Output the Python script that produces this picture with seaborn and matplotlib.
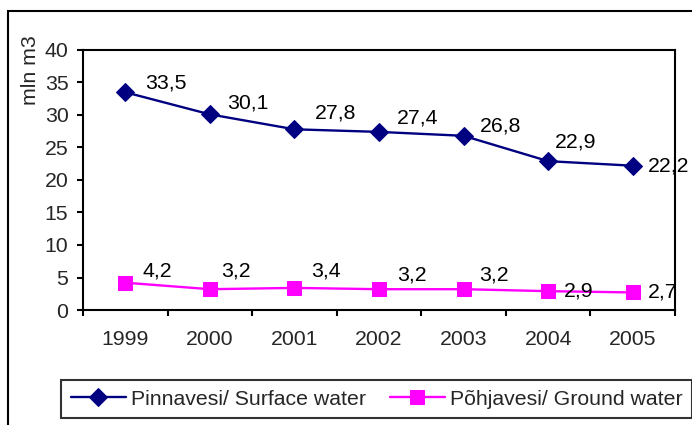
import pandas as pd
import matplotlib.pyplot as plt
import seaborn as sns
from matplotlib.patches import Rectangle

aastad = ['1999', '2000', '2001', '2002', '2003', '2004', '2005']
pinnavesi = [33.5, 30.1, 27.8, 27.4, 26.8, 22.9, 22.2]
pohjavesi = [4.2, 3.2, 3.4, 3.2, 3.2, 2.9, 2.7]
nimi_pinna = 'Pinnavesi/ Surface water'
nimi_pohja = 'Põhjavesi/ Ground water'

# label offsets in pixels (dx, dy), hand-placed like in the original
nihe_pinna = [(20, 9), (17, 11), (20, 16), (18, 14), (16, 10), (7, 19), (15, 0)]
nihe_pohja = [(17, 12), (11, 18), (17, 17), (18, 14), (16, 14), (16, 0), (15, 0)]

df_pinna = pd.DataFrame({'aasta': aastad, 'vesi': pinnavesi})
df_pohja = pd.DataFrame({'aasta': aastad, 'vesi': pohjavesi})

FS = 15.3

sns.set_theme(style='white')
plt.rcParams['font.family'] = ['Liberation Sans', 'DejaVu Sans']
plt.rcParams['font.size'] = FS

fig = plt.figure(figsize=(6.92, 4.25), dpi=100)
ax = fig.add_axes([83/692, 1 - 310/425, (675 - 83)/692, 260/425])

sns.lineplot(data=df_pinna, x='aasta', y='vesi', ax=ax, color='#000080',
             marker='D', markersize=9, markeredgecolor='#000080',
             linewidth=1.7, label=nimi_pinna)
sns.lineplot(data=df_pohja, x='aasta', y='vesi', ax=ax, color='#FF00FF',
             marker='s', markersize=10.5, markeredgecolor='#FF00FF',
             linewidth=1.7, label=nimi_pohja)

for vals, nihked in [(pinnavesi, nihe_pinna), (pohjavesi, nihe_pohja)]:
    for i, (v, off) in enumerate(zip(vals, nihked)):
        ax.annotate(f'{v:.1f}'.replace('.', ','), (i, v), xytext=off,
                    textcoords='offset pixels', ha='left', va='center',
                    fontsize=FS, color='black')

ax.set_xlim(-0.5, len(aastad) - 0.5)
ax.set_ylim(0, 40)
ax.set_yticks(range(0, 41, 5))
ax.set_xticks([i - 0.5 for i in range(len(aastad) + 1)])
ax.set_xticklabels([])
ax.set_xticks(range(len(aastad)), minor=True)
ax.set_xticklabels(aastad, minor=True)
ax.tick_params(axis='x', which='major', direction='out', length=4.5, width=1.5, color='black')
ax.tick_params(axis='x', which='minor', length=0, pad=14.5, labelsize=FS)
ax.tick_params(axis='y', direction='out', length=4.5, width=1.5, color='black', pad=6, labelsize=FS)
ax.tick_params(left=True, bottom=True)
ax.set_xlabel('')
ax.set_ylabel('')
for s in ax.spines.values():
    s.set_visible(True)
    s.set_color('black')
    s.set_linewidth(1.5)

fig.text(31/692, 1 - 70/425, 'mln m3', rotation=90, ha='center', va='center', fontsize=FS)

h, l = ax.get_legend_handles_labels()
ax.legend_.remove()
leg = fig.legend(h, l, loc='upper left', bbox_to_anchor=(61/692, 1 - 380/425),
                 bbox_transform=fig.transFigure, ncol=2, frameon=True, fancybox=False,
                 borderaxespad=0, borderpad=0.45, handlelength=2.6, handletextpad=0.25,
                 columnspacing=1.1, fontsize=FS)
leg.get_frame().set_edgecolor('black')
leg.get_frame().set_linewidth(1.5)

fig.add_artist(Rectangle((8/692, -0.2), 1.2, 1 - 11/425 + 0.2, transform=fig.transFigure,
                         fill=False, edgecolor='black', linewidth=1.5))

fig.savefig('out.png', dpi=100)
